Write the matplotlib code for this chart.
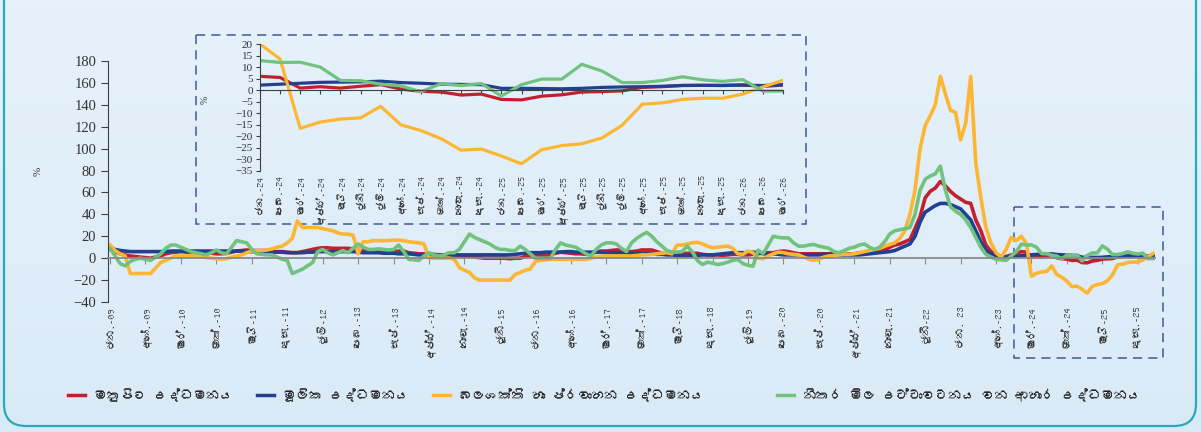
import numpy as np
import matplotlib
matplotlib.use('Agg')
import matplotlib.pyplot as plt
from matplotlib import font_manager, ft2font
from matplotlib.patches import FancyBboxPatch, Rectangle
from matplotlib.lines import Line2D

# 月次データ 2009年1月 ～ 2026年3月 (%, 前年同月比)
headline = [
    8, 6, 4, 3, 2, 1.5, 1, 0.5, 0, 1, 2, 4,                 # 2009
    5, 5.5, 6, 5.5, 5, 5, 5, 5, 4.5, 4, 4, 4.5,              # 2010
    5.5, 6.5, 7, 7.5, 7, 7, 7, 7, 6.5, 6, 6, 5.5,            # 2011
    5, 5, 6, 7, 8, 9, 9.5, 9.5, 9, 9, 9, 9,                  # 2012
    8.5, 8, 7, 7, 7.5, 7, 6.5, 6, 6, 6.5, 6.5, 5,            # 2013
    4.5, 4, 4, 4, 3.5, 3, 3, 3, 3, 2, 1.5, 2,                # 2014
    1, 0.5, 0, 0, 0, 0, 0, -0.5, 0, 0, 1.5, 2.5,             # 2015
    3, 2.5, 2, 3.5, 4.5, 5.5, 5, 4.5, 4, 4, 3.5, 4,          # 2016
    5.5, 6.5, 6.5, 7, 7.5, 7.5, 6, 6, 6.5, 7.5, 7.5, 7.5,    # 2017
    6, 4.5, 4, 3.5, 3, 4, 4.5, 4.5, 4.5, 3.5, 3, 2.8,        # 2018
    3, 2.5, 3, 3.5, 3.5, 3, 3, 3.5, 4, 5, 5, 5,              # 2019
    6, 6.5, 6, 5, 4, 4, 4, 4, 4, 4, 4, 4.5,                  # 2020
    3.5, 3.5, 4, 4, 5, 5, 5.5, 6, 6, 7.5, 10, 12,            # 2021
    13, 15, 17, 27, 38, 55, 61, 64, 70, 66, 61, 57,          # 2022
    54, 51, 50, 35, 25, 12, 6, 4, 1.5, 1.5, 3, 4,            # 2023
    6.0, 5.5, 0.9, 1.5, 0.9, 1.7, 2.4, 0.5, -0.5, -0.8, -2.1, -1.7,   # 2024
    -4.0, -4.2, -2.6, -2.0, -0.8, -0.6, -0.3, 1.2, 1.5, 2.1, 2.1, 2.1,  # 2025
    2.3, 1.6, 2.2,                                           # 2026
]
core = [
    9, 8, 7, 6.5, 6, 6, 6, 6, 6, 6, 6, 6,
    6.5, 6.5, 6.5, 6.5, 6.5, 6.5, 6.5, 6.5, 6.5, 6.5, 6.5, 6.5,
    6.5, 6.5, 6.5, 6, 6, 6, 6, 6, 5.5, 5.5, 5.5, 5,
    5, 5, 5, 5.5, 5.5, 6, 6, 6, 6, 6, 6, 6,
    6, 5.5, 5, 5, 5, 5, 4.5, 4.5, 4.5, 4, 4, 4,
    3.5, 3, 3, 3, 3, 3, 3, 3, 3, 3, 3, 3,
    3, 3, 3, 3, 3, 3, 3, 3, 3.5, 4, 4.5, 5,
    5, 5, 5.5, 5.5, 5.5, 5.5, 6, 6, 5.5, 5.5, 5.5, 5.5,
    5.5, 5.5, 5, 5, 5, 5, 4.5, 4.5, 4.5, 4.5, 4.5, 4.5,
    3.5, 3.5, 3, 3, 2.5, 2.5, 2.5, 2.5, 2.5, 3, 3, 3,
    3.5, 4, 4.5, 5, 5, 5, 5, 5.5, 5, 4, 3.5, 4,
    3.5, 3, 3, 3, 3, 3, 3, 3, 3, 3.5, 3.5, 3.5,
    3, 3, 3, 3, 3, 3.5, 4, 4.5, 5, 5.5, 6, 7,
    9, 11, 13, 20, 33, 42, 45, 48, 50, 50, 49, 47,
    45, 40, 35, 25, 15, 7, 4, 1.5, 0.5, 1, 2, 1.5,
    2.2, 2.6, 3.0, 3.4, 3.5, 3.6, 3.9, 3.3, 3.0, 2.6, 2.5, 2.4,
    0.8, 0.8, 0.7, 0.6, 0.8, 1.2, 1.4, 1.5, 1.7, 2.0, 2.1, 2.0,
    2.2, 2.0, 2.4,
]
energy = [
    12, 7, 4, 2, -14, -14, -14, -14, -14, -9, -4, -2,
    0, 2, 2, 2, 2.5, 2.5, 1.5, 0.5, 0, -0.5, -1, -0.5,
    1, 2, 3, 5, 6.5, 7, 7, 7.5, 8.5, 10, 11, 14,
    18, 34, 28, 28, 28, 28, 27, 26, 25, 23, 22, 22,
    21, 4, 15, 15, 16, 16, 16, 16, 16.5, 16.5, 16, 15,
    14.5, 14, 13, 0, 0, 0, 0, 0, -1, -8.5, -11, -13,
    -18, -20, -20, -20, -20, -20, -20, -20, -15, -13, -11, -10,
    -3, -2, -1.5, -1, -1, -1, -1, -1, -1, -1, -1, 0,
    1, 2, 2, 2, 2, 2, 2, 2, 2.5, 3, 3, 3.5,
    4, 4.5, 5, 4, 12, 12, 13, 14, 14.5, 13, 11, 9.5,
    10, 10.5, 11, 9, 4, 3.5, 6.5, 5, 0, -0.5, 2, 4,
    5.5, 5, 4, 3.5, 3, 1, -1, -2, -1, 1, 2, 2.5,
    3, 3.5, 3.5, 4, 5, 6, 7, 8, 9, 11, 12.5, 14,
    18, 25, 40, 62, 100, 121, 130, 140, 166, 150, 135, 133,
    108, 123, 166, 87, 55, 28, 14, 5, 1, 8, 19, 16,
    20, 13.5, -16.5, -13.8, -12.5, -12.0, -7.0, -15.0, -17.5, -21.0, -26.0, -25.5,
    -28.5, -31.9, -25.8, -24.0, -23.2, -20.7, -15.2, -6.1, -5.5, -4.0, -3.5, -3.5,
    -1.7, 1.4, 4.3,
]
food = [
    9, 2, -5, -7, -3, -1, 0, -1, -2, 1, 4, 9,
    12, 12, 10, 8, 6, 5, 4, 3, 5, 7.5, 5, 4,
    10, 16, 15, 14, 8, 4, 3.5, 3, 3, 1, -1, -2,
    -14, -12, -10, -7, -4, 6, 8, 5, 3, 5, 7, 5,
    9, 13, 10, 8, 8, 8.5, 8, 7.5, 8, 12, 6, -1,
    -1.5, -2, 2, 5, 3, 2, 3, 5, 5, 8, 15, 22,
    19, 17, 15, 13, 10, 8, 8, 7, 7, 11, 8, 4,
    0, 0, 0, 0, 8, 14, 12, 11, 10, 7, 4, 2,
    8, 12, 14, 14, 13, 9, 6, 14, 18, 21, 23.5, 20,
    15, 11, 7, 5.5, 5.5, 6, 11, 6, -2, -5.8, -3.6, -4.5,
    -5.8, -5, -3.6, -2, -1.2, -4.9, -6.5, -7.3, 7.3, 4.3, 12, 20,
    19, 18.5, 18.5, 14, 11, 11, 12, 12.5, 11, 10, 9, 6,
    5, 7, 9, 10, 12, 13, 10, 8, 10, 15, 22, 25,
    26, 27, 28, 40, 62, 72, 75, 77, 84, 62, 47, 43,
    40, 35, 28, 19, 10, 3.5, 1, -1, -1.5, -2, 2, 6,
    12.8, 12.0, 12.1, 10.0, 4.2, 4.1, 2.6, 1.9, -0.7, 2.8, 2.0, 2.9,
    -2.5, 2.4, 4.8, 4.8, 11.2, 8.3, 3.3, 3.3, 4.2, 5.8, 4.5, 3.8,
    4.6, -0.4, -0.4,
]

series_labels = ['මතුපිට උද්ධමනය', 'මූලික උද්ධමනය',
                 'බලශක්ති හා ප්‍රවාහන උද්ධමනය',
                 'නිතර මිල උච්චාවචනය වන ආහාර උද්ධමනය']
colors = ['#c3202f', '#22408f', '#fdb631', '#71c27d']

# 主グラフの目盛ラベル (7ヶ月毎)
main_tick_labels = ['ජන.-09', 'අගෝ.-09', 'මාර්.-10', 'ඔක්.-10', 'මැයි-11', 'දෙසැ.-11',
                    'ජූලි-12', 'පෙබ.-13', 'සැප්.-13', 'අප්‍රේ.-14', 'නොවැ.-14', 'ජූනි-15',
                    'ජන.-16', 'අගෝ.-16', 'මාර්.-17', 'ඔක්.-17', 'මැයි-18', 'දෙසැ.-18',
                    'ජූලි-19', 'පෙබ.-20', 'සැප්.-20', 'අප්‍රේ.-21', 'නොවැ.-21', 'ජූනි-22',
                    'ජන. 23', 'අගෝ.-23', 'මාර්.-24', 'ඔක්.-24', 'මැයි-25', 'දෙසැ.-25']
# 拡大図の目盛ラベル (2024年1月～)
inset_tick_labels = ['ජන.-24', 'පෙබ.-24', 'මාර්.-24', 'අප්‍රේ.-24', 'මැයි-24', 'ජූනි-24',
                     'ජූලි-24', 'අගෝ.-24', 'සැප්.-24', 'ඔක්.-24', 'නොවැ.-24', 'දෙසැ.-24',
                     'ජන.-25', 'පෙබ.-25', 'මාර්.-25', 'අප්‍රේ.-25', 'මැයි-25', 'ජූනි-25',
                     'ජූලි-25', 'අගෝ.-25', 'සැප්.-25', 'ඔක්.-25', 'නොවැ.-25', 'දෙසැ.-25',
                     'ජන.-26', 'පෙබ.-26', 'මාර්.-26']
inset_start = 180  # 2024年1月の位置

all_series = [headline, core, energy, food]
for s in all_series:
    assert len(s) == 207, len(s)


# ZWJ はフォントに無いので表示時に除く (文字自体はそのまま)
def no_zwj(s):
    return s.replace('\u200d', '')


# シンハラ文字を含むフォントを探す
def find_sinhala_font():
    for f in font_manager.fontManager.ttflist:
        try:
            if 0x0D9A in ft2font.FT2Font(f.fname).get_charmap():
                return f.name
        except Exception:
            pass
    return None


sin = find_sinhala_font()
lab_family = ([sin] if sin else []) + ['Liberation Serif', 'DejaVu Sans']
leg_family = ([sin] if sin else []) + ['DejaVu Sans']
num_family = ['Liberation Serif', 'DejaVu Serif']
txt_color = '#333333'

fig = plt.figure(figsize=(12.01, 4.32), dpi=100)

# 背景 (ピクセル座標)
bg = fig.add_axes([0, 0, 1, 1], zorder=-10)
bg.set_xlim(0, 1201)
bg.set_ylim(432, 0)
bg.axis('off')
grad = np.linspace(0, 1, 100).reshape(-1, 1)
bg.imshow(grad, extent=(0, 1201, 432, 0), aspect='auto',
          cmap=matplotlib.colors.LinearSegmentedColormap.from_list(
              'bgc', ['#e6f2fb', '#d9eaf7']))
bg.add_patch(FancyBboxPatch((4, -40), 1192, 466, boxstyle='round,pad=0,rounding_size=22',
                            fc='none', ec='#2aa9b8', lw=1.6))
bg.add_patch(Rectangle((196, 35), 610, 189, fill=False, ec='#3d5a98', lw=1.1,
                       linestyle=(0, (6, 4))))
bg.add_patch(Rectangle((1014, 207), 149, 151, fill=False, ec='#3d5a98', lw=1.1,
                       linestyle=(0, (6, 4))))

x = np.arange(len(headline))

# 主グラフ
ax = fig.add_axes([108 / 1201, 130 / 432, 1047 / 1201, 241 / 432])
ax.set_facecolor('none')
for s, c in zip(all_series, colors):
    ax.plot(x, s, color=c, lw=2.6, solid_joinstyle='round')
ax.set_xlim(-0.4, 206.4)
ax.set_ylim(-40, 180)
ax.set_yticks(range(-40, 181, 20))
ax.spines['top'].set_visible(False)
ax.spines['right'].set_visible(False)
ax.spines['left'].set_color('#404040')
ax.spines['bottom'].set_position(('data', 0))
ax.spines['bottom'].set_color('#8a8a8a')
ax.spines['bottom'].set_linewidth(1.3)
ax.set_xticks(np.arange(0, 207, 7))
ax.tick_params(axis='x', direction='out', length=4, color='#8a8a8a', labelbottom=False)
ax.tick_params(axis='y', direction='out', length=5, color='#404040', labelsize=10.5,
               labelcolor=txt_color)
for t in ax.get_yticklabels():
    t.set_family(num_family)
sec = ax.secondary_xaxis('bottom')
sec.set_xticks(np.arange(0, 207, 7), [no_zwj(s) for s in main_tick_labels], rotation=90)
sec.tick_params(length=0, pad=3, labelsize=7.5, labelcolor=txt_color)
sec.spines['bottom'].set_visible(False)
for t in sec.get_xticklabels():
    t.set_family(lab_family)
ax.set_ylabel('%', fontsize=8, color=txt_color, family=num_family)
ax.yaxis.set_label_coords(-65 / 1047, 0.54)

# 拡大図 (2024年1月～)
ax2 = fig.add_axes([260 / 1201, 261 / 432, 523 / 1201, 127 / 432])
ax2.set_facecolor('none')
xi = np.arange(len(inset_tick_labels))
for s, c in zip(all_series, colors):
    ax2.plot(xi, s[inset_start:], color=c, lw=2.3, solid_joinstyle='round')
ax2.set_xlim(0, 26)
ax2.set_ylim(-35, 20)
ax2.set_yticks(range(-35, 21, 5))
ax2.spines['top'].set_visible(False)
ax2.spines['right'].set_visible(False)
ax2.spines['left'].set_color('#404040')
ax2.spines['bottom'].set_position(('data', 0))
ax2.spines['bottom'].set_color('#404040')
ax2.set_xticks(xi)
ax2.tick_params(axis='x', direction='out', length=3, color='#404040', labelbottom=False)
ax2.tick_params(axis='y', direction='out', length=3, color='#404040', labelsize=8,
                labelcolor=txt_color, pad=2)
for t in ax2.get_yticklabels():
    t.set_family(num_family)
sec2 = ax2.secondary_xaxis('bottom')
sec2.set_xticks(xi, [no_zwj(s) for s in inset_tick_labels], rotation=90)
sec2.tick_params(length=0, pad=3, labelsize=7, labelcolor=txt_color)
sec2.spines['bottom'].set_visible(False)
for t in sec2.get_xticklabels():
    t.set_family(lab_family)
ax2.set_ylabel('%', fontsize=7, color=txt_color, family=num_family)
ax2.yaxis.set_label_coords(-50 / 523, 0.56)

# 凡例 (項目毎に配置)
legend_x = [68, 257, 433, 777]
for lx, lab, c in zip(legend_x, series_labels, colors):
    leg = fig.legend([Line2D([], [], color=c, lw=2.5)], [no_zwj(lab)],
                     loc='center left', bbox_to_anchor=(lx / 1201, 37 / 432),
                     frameon=False, handlelength=1.3, handletextpad=0.7,
                     borderpad=0, borderaxespad=0,
                     prop={'family': leg_family, 'size': 9.5})
    for t in leg.get_texts():
        t.set_color('#222222')

fig.savefig('out.png', dpi=100)
